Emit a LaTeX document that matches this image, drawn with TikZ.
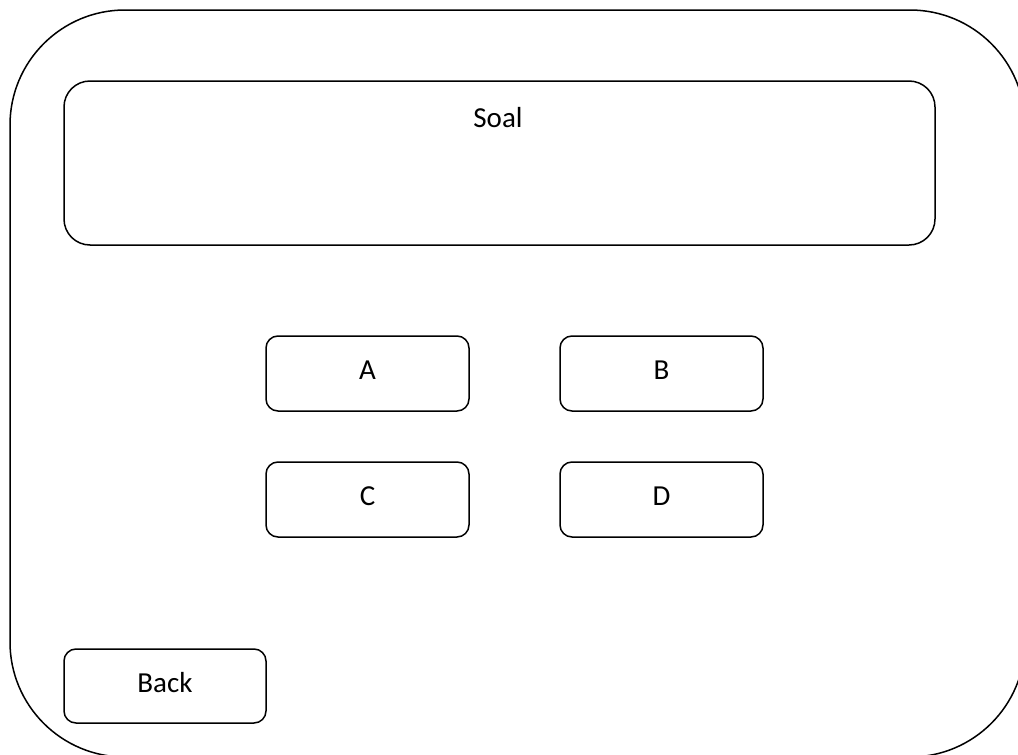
\documentclass[tikz,border=0pt]{standalone}
\usepackage{fontspec}
\setmainfont{Carlito}
\newcommand{\up}[1]{\raisebox{7pt}{#1}}
\begin{document}
\begin{tikzpicture}[x=1pt,y=-1pt,
  box/.style={draw=black,line width=1.5pt,inner sep=0pt,font=\fontsize{29}{34}\selectfont},
  btn/.style={box,rounded corners=12pt,minimum width=203pt,minimum height=75pt}]
\useasboundingbox (0,0) rectangle (1018,755);
\node[box,rounded corners=115pt,minimum width=1015pt,minimum height=747pt] (outer) at (517.5,383.5) {};
\node[box,rounded corners=26pt,minimum width=871pt,minimum height=164pt] (soal) at (499.5,163) {};
\node[font=\fontsize{29}{34}\selectfont] (soaltext) at (498,118) {Soal};
\node[btn] (a) at (367.5,373.5) {\up{A}};
\node[btn] (b) at (661.5,373.5) {\up{B}};
\node[btn] (c) at (367.5,499.5) {\up{C}};
\node[btn] (d) at (661.5,499.5) {\up{D}};
\node[btn,minimum width=202pt,minimum height=74pt] (back) at (165,686) {\up{Back}};
\end{tikzpicture}
\end{document}
